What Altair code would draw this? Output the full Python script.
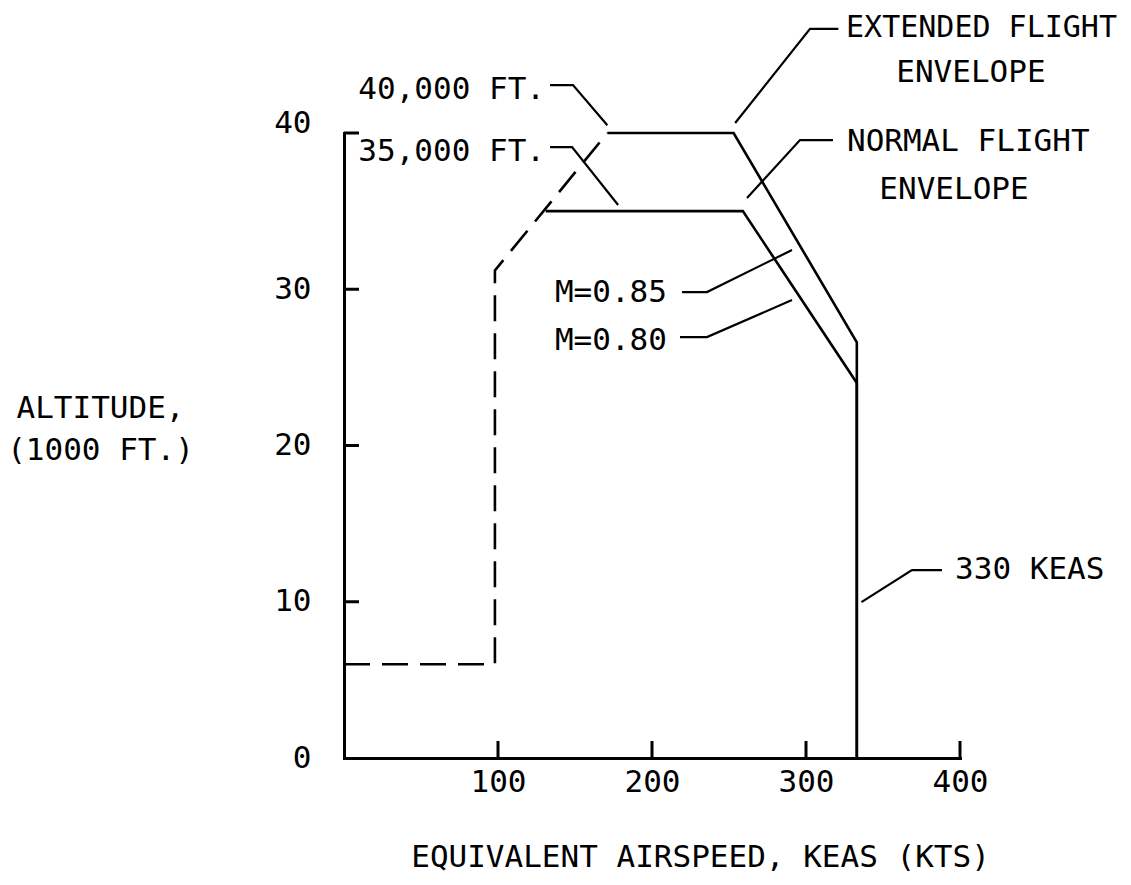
import altair as alt
import pandas as pd

FONT = "DejaVu Sans Mono"
FS = 31

# ---- envelope boundaries (x: KEAS, y: altitude in 1000 ft) ----
extended_keas = [171, 253, 333, 333]
extended_alt = [40, 40, 26.6, 0]
normal_keas = [131, 259, 333, 333]
normal_alt = [35, 35, 24, 0]
lowspeed_keas = [0, 98, 98, 171]
lowspeed_alt = [6, 6, 31.2, 40]

# ---- axis ticks ----
x_tick_values = [100, 200, 300, 400]
y_tick_values = [10, 20, 30, 40]
y_label_values = [0, 10, 20, 30, 40]

# ---- callout texts ----
right_labels = ["40,000 FT.", "35,000 FT.", "M=0.85", "M=0.80"]
right_keas = [130.5, 130.5, 209.7, 209.7]
right_alt = [42.75, 38.78, 29.76, 26.69]
left_labels = ["NORMAL FLIGHT", "330 KEAS"]
left_keas = [326.6, 396.8]
left_alt = [39.42, 12.03]
wide_labels = ["EXTENDED FLIGHT"]
wide_keas = [326.0]
wide_alt = [46.72]
center_labels = ["ENVELOPE", "ENVELOPE"]
center_keas = [407.1, 396.1]
center_alt = [43.84, 36.35]

# ---- leader lines ----
leader_40k_keas = [133.8, 148.7, 171]
leader_40k_alt = [43.07, 43.07, 40.5]
leader_35k_keas = [133.8, 148.1, 178]
leader_35k_alt = [39.1, 39.1, 35.39]
leader_ext_keas = [321.0, 302.6, 254]
leader_ext_alt = [46.66, 46.66, 40.64]
leader_nrm_keas = [317.5, 296.1, 261.7]
leader_nrm_alt = [39.55, 39.55, 35.84]
leader_m85_keas = [219.5, 235.7, 290.9]
leader_m85_alt = [29.82, 29.82, 32.51]
leader_m80_keas = [218.2, 235.7, 290.9]
leader_m80_alt = [26.94, 26.94, 29.31]
leader_330_keas = [388.3, 368.8, 336]
leader_330_alt = [12.03, 12.03, 9.98]


def poly(name, xs, ys):
    return pd.DataFrame({"id": name, "order": list(range(len(xs))), "x": xs, "y": ys})


solid_df = pd.concat([
    poly("extended", extended_keas, extended_alt),
    poly("normal", normal_keas, normal_alt),
])
dashed_df = poly("lowspeed", lowspeed_keas, lowspeed_alt)
leader_df = pd.concat([
    poly("l40", leader_40k_keas, leader_40k_alt),
    poly("l35", leader_35k_keas, leader_35k_alt),
    poly("lext", leader_ext_keas, leader_ext_alt),
    poly("lnrm", leader_nrm_keas, leader_nrm_alt),
    poly("l85", leader_m85_keas, leader_m85_alt),
    poly("l80", leader_m80_keas, leader_m80_alt),
    poly("l330", leader_330_keas, leader_330_alt),
])
right_df = pd.DataFrame({"x": right_keas, "y": right_alt, "t": right_labels})
left_df = pd.DataFrame({"x": left_keas, "y": left_alt, "t": left_labels})
wide_df = pd.DataFrame({"x": wide_keas, "y": wide_alt, "t": wide_labels})
center_df = pd.DataFrame({"x": center_keas, "y": center_alt, "t": center_labels})
xtick_df = pd.DataFrame({"x": x_tick_values})
ytick_df = pd.DataFrame({"y": y_tick_values})

XS = alt.Scale(domain=[0, 400], nice=False, zero=False)
YS = alt.Scale(domain=[0, 40], nice=False, zero=False)

x_axis = alt.Axis(
    values=x_tick_values, ticks=False, tickSize=0, grid=False,
    domainColor="black", domainWidth=3, domainCap="square",
    labelFont=FONT, labelFontSize=FS, labelColor="black", labelPadding=9,
    labelFlush=False, labelOverlap=False,
    title="EQUIVALENT AIRSPEED, KEAS (KTS)", titleFont=FONT, titleFontSize=FS,
    titleFontWeight="normal", titleColor="black", titleAlign="center",
    titleBaseline="middle", titleX=356, titleY=99,
)
y_axis = alt.Axis(
    values=y_label_values, ticks=False, tickSize=0, grid=False,
    domainColor="black", domainWidth=3, domainCap="square",
    labelFont=FONT, labelFontSize=FS, labelColor="black", labelPadding=33,
    labelFlush=False, labelOverlap=False,
    labelOffset={"condition": {"test": "datum.value === 40", "value": -10}, "value": 0},
    title=["ALTITUDE,", "(1000 FT.)"], titleFont=FONT, titleFontSize=FS,
    titleFontWeight="normal", titleColor="black", titleAngle=0,
    titleAlign="center", titleBaseline="middle", titleLineHeight=42,
    titleX=-244, titleY=275,
)

solid = alt.Chart(solid_df).mark_line(color="black", strokeWidth=2.6).encode(
    x=alt.X("x:Q", scale=XS, axis=x_axis),
    y=alt.Y("y:Q", scale=YS, axis=y_axis),
    detail="id:N",
    order="order:Q",
)
dashed = alt.Chart(dashed_df).mark_line(
    color="black", strokeWidth=2.6, strokeDash=[26, 12]
).encode(
    x=alt.X("x:Q", scale=XS), y=alt.Y("y:Q", scale=YS), order="order:Q"
)
leaders = alt.Chart(leader_df).mark_line(color="black", strokeWidth=2.2).encode(
    x=alt.X("x:Q", scale=XS), y=alt.Y("y:Q", scale=YS),
    detail="id:N", order="order:Q",
)
xticks = alt.Chart(xtick_df).mark_rule(color="black", strokeWidth=3).encode(
    x=alt.X("x:Q", scale=XS), y=alt.value(625), y2=alt.value(608)
)
yticks = alt.Chart(ytick_df).mark_rule(color="black", strokeWidth=3).encode(
    y=alt.Y("y:Q", scale=YS), x=alt.value(0), x2=alt.value(15)
)


def texts(df, align, size=FS):
    return alt.Chart(df).mark_text(
        font=FONT, fontSize=size, color="black", align=align, baseline="middle"
    ).encode(x=alt.X("x:Q", scale=XS), y=alt.Y("y:Q", scale=YS), text="t:N")


chart = alt.layer(
    solid, dashed, leaders, xticks, yticks,
    texts(right_df, "right"), texts(left_df, "left"),
    texts(wide_df, "left", 30), texts(center_df, "center"),
).properties(
    width=616, height=625,
    background="white",
    autosize=alt.AutoSizeParams(type="none"),
    padding={"left": 336, "top": 125, "right": 163, "bottom": 116},
).configure_view(stroke="transparent", strokeWidth=0)

chart.save("out.html", embed_options={"renderer": "svg", "actions": False})
